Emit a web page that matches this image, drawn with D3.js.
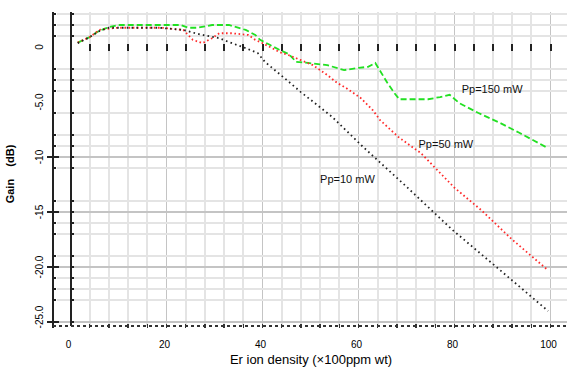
<!DOCTYPE html>
<html>
<head>
<meta charset="utf-8">
<script src="https://cdn.jsdelivr.net/npm/d3@7"></script>
<style>
    body { margin: 0; background: #fff; }
    svg { display: block; font-family: "Liberation Sans", Arial, sans-serif; }
    .grid-minor { stroke: #e4e4e4; stroke-width: 2; shape-rendering: crispEdges; }
    .grid-major { stroke: #c4c4c4; stroke-width: 1.5; shape-rendering: crispEdges; }
    .axis-line { stroke: #222; stroke-width: 2; shape-rendering: crispEdges; }
    .tick { stroke: #222; stroke-width: 2; shape-rendering: crispEdges; }
</style>
</head>
<body>
<svg width="567" height="372"></svg>
<script>
(function(d3) {
    'use strict';

    // Pp = 150 mW (green, dashed)
    const densityP150 = [1.5, 4, 5.5, 7, 8, 10, 23, 24.5, 26.5, 29.5, 33, 36.5, 38.5, 39.5, 41.5, 43.5, 45.5, 47, 49.5, 53.5, 57, 60, 62, 63.5, 66, 67.5, 68.5, 74.5, 77, 79, 81, 85, 89.5, 93.5, 99.5];
    const gainP150 = [0.4, 0.9, 1.35, 1.65, 1.8, 2.0, 2.0, 1.75, 1.75, 2.0, 2.0, 1.55, 1.1, 0.65, 0.2, -0.25, -0.65, -1.35, -1.45, -1.65, -2.1, -1.9, -1.8, -1.45, -3.25, -4.2, -4.75, -4.75, -4.55, -4.35, -5.1, -6.0, -6.9, -7.8, -9.2];

    // Pp = 50 mW (red, dotted)
    const densityP50 = [1.5, 4, 6, 7.5, 10, 19, 23.5, 25.5, 27.5, 29.5, 31, 33.5, 37, 38.5, 40, 43.5, 45.5, 48, 50.5, 53.5, 55.5, 57.5, 60.5, 63, 64.5, 68.5, 73, 80, 85.5, 92, 99.5];
    const gainP50 = [0.4, 0.9, 1.55, 1.65, 1.75, 1.75, 1.55, 0.65, 0.35, 0.8, 1.25, 1.25, 1.1, 0.65, 0.35, -0.45, -0.75, -1.2, -1.65, -2.55, -3.25, -3.75, -4.65, -5.75, -6.65, -8.25, -9.65, -12.8, -14.8, -17.5, -20.3];

    // Pp = 10 mW (black, dotted)
    const densityP10 = [1.5, 4, 6, 8, 18.5, 23.5, 26, 27.5, 31, 33, 36.5, 39, 40.5, 44.5, 48, 54.5, 61, 70, 79.5, 89, 99.5];
    const gainP10 = [0.35, 0.9, 1.45, 1.75, 1.75, 1.55, 1.25, 1.1, 0.8, 0.45, -0.1, -0.55, -1.35, -2.8, -4.1, -6.35, -9.1, -12.7, -16.6, -20.1, -24.0];

    const seriesNames = ['Pp=150 mW', 'Pp=50 mW', 'Pp=10 mW'];
    const seriesColors = ['#22e022', '#ff2a2a', '#222222'];
    const labelPoints = [[81.5, -4.2], [72.5, -9.2], [52, -12.4]];

    const xTickValues = [0, 20, 40, 60, 80, 100];
    const xMinorValues = d3.range(4, 101, 4);
    const yLabelValues = [0, -5, -10, -15, -20, -25];
    const yLabelText = ['0', '-5.0', '-10', '-15', '-20.0', '-25.0'];
    const yMajorValues = [-10, -15, -20, -25];
    const yMinorValues = [3, 2, 1, -2, -3, -4, -6, -8, -9, -11, -14, -16, -17, -19, -21, -22, -23];

    const svg = d3.select('svg');

    const xScale = d3.scaleLinear().domain([0, 100]).range([70.5, 550.5]);
    const yScale = d3.scaleLinear().domain([0, -25]).range([47, 322]);

    const top = 12, bottom = 326, outerX = 53, right = 567;

    // grid
    const gridG = svg.append('g');
    gridG.selectAll('.vminor').data(xMinorValues)
        .enter().append('line')
        .attr('class', d => d % 20 === 0 ? 'grid-major' : 'grid-minor')
        .attr('x1', xScale).attr('x2', xScale)
        .attr('y1', top).attr('y2', bottom);

    gridG.selectAll('.hminor').data(yMinorValues)
        .enter().append('line')
        .attr('class', 'grid-minor')
        .attr('x1', outerX + 4).attr('x2', right)
        .attr('y1', yScale).attr('y2', yScale);

    gridG.selectAll('.hmajor').data(yMajorValues)
        .enter().append('line')
        .attr('class', 'grid-major')
        .attr('x1', outerX - 4).attr('x2', right)
        .attr('y1', yScale).attr('y2', yScale);

    // double y axis lines
    svg.append('line').attr('class', 'axis-line')
        .attr('x1', outerX).attr('x2', outerX).attr('y1', top).attr('y2', bottom + 2);
    svg.append('line').attr('class', 'axis-line')
        .attr('x1', xScale(0)).attr('x2', xScale(0)).attr('y1', top).attr('y2', bottom);

    const yTickAll = yMinorValues.concat(yMajorValues);
    [outerX, xScale(0)].forEach(ax => {
        svg.append('g').selectAll('line').data(yTickAll)
            .enter().append('line')
            .attr('class', 'tick')
            .attr('x1', ax - 1).attr('x2', ax + 3)
            .attr('y1', yScale).attr('y2', yScale);
    });
    svg.append('g').selectAll('line').data(yMajorValues)
        .enter().append('line')
        .attr('class', 'tick')
        .attr('x1', outerX - 6).attr('x2', outerX + 6)
        .attr('y1', yScale).attr('y2', yScale);

    // tick row along 0 dB
    svg.append('g').selectAll('line').data(xMinorValues)
        .enter().append('line')
        .attr('class', 'tick')
        .attr('x1', xScale).attr('x2', xScale)
        .attr('y1', yScale(0) - 3).attr('y2', yScale(0) + 4);

    // dashed bottom axis
    svg.append('line')
        .attr('x1', outerX).attr('x2', right)
        .attr('y1', bottom).attr('y2', bottom)
        .attr('stroke', '#333').attr('stroke-width', 1.5)
        .attr('stroke-dasharray', '3,3')
        .attr('shape-rendering', 'crispEdges');
    svg.append('g').selectAll('line').data(xMinorValues)
        .enter().append('line')
        .attr('x1', xScale).attr('x2', xScale)
        .attr('y1', bottom - 2).attr('y2', bottom + 2)
        .attr('stroke', '#333').attr('stroke-width', 1.5)
        .attr('shape-rendering', 'crispEdges');

    // tick labels
    svg.append('g').selectAll('text').data(xTickValues)
        .enter().append('text')
        .attr('x', d => xScale(d) - 2)
        .attr('y', 348)
        .attr('text-anchor', 'middle')
        .attr('font-size', 10)
        .text(d => d);

    svg.append('g').selectAll('text').data(yLabelValues)
        .enter().append('text')
        .attr('transform', (d, i) => `translate(43,${yScale(d) - (i === 5 ? 5 : 0)}) rotate(-90)`)
        .attr('text-anchor', 'middle')
        .attr('font-size', 10)
        .text((d, i) => yLabelText[i]);

    // titles
    svg.append('text')
        .attr('transform', 'translate(14,174) rotate(-90)')
        .attr('text-anchor', 'middle')
        .attr('font-size', 11)
        .attr('font-weight', 'bold')
        .attr('xml:space', 'preserve')
        .text('Gain    (dB)');

    svg.append('text')
        .attr('x', 311).attr('y', 364)
        .attr('text-anchor', 'middle')
        .attr('font-size', 13)
        .text('Er ion density (×100ppm wt)');

    // curves
    const lineGen = d3.line()
        .x(d => xScale(d[0]))
        .y(d => yScale(d[1]));

    const series = [
        d3.zip(densityP150, gainP150),
        d3.zip(densityP50, gainP50),
        d3.zip(densityP10, gainP10)
    ];
    const dashes = ['6,3', '1.6,2.6', '1.6,3.2'];

    svg.append('g').selectAll('path').data(series)
        .enter().append('path')
        .attr('d', lineGen)
        .attr('fill', 'none')
        .attr('stroke', (d, i) => seriesColors[i])
        .attr('stroke-width', 1.8)
        .attr('stroke-dasharray', (d, i) => dashes[i]);

    svg.append('g').selectAll('text').data(seriesNames)
        .enter().append('text')
        .attr('x', (d, i) => xScale(labelPoints[i][0]))
        .attr('y', (d, i) => yScale(labelPoints[i][1]))
        .attr('font-size', 11)
        .attr('fill', '#111')
        .text(d => d);
}(d3));
</script>
</body>
</html>
